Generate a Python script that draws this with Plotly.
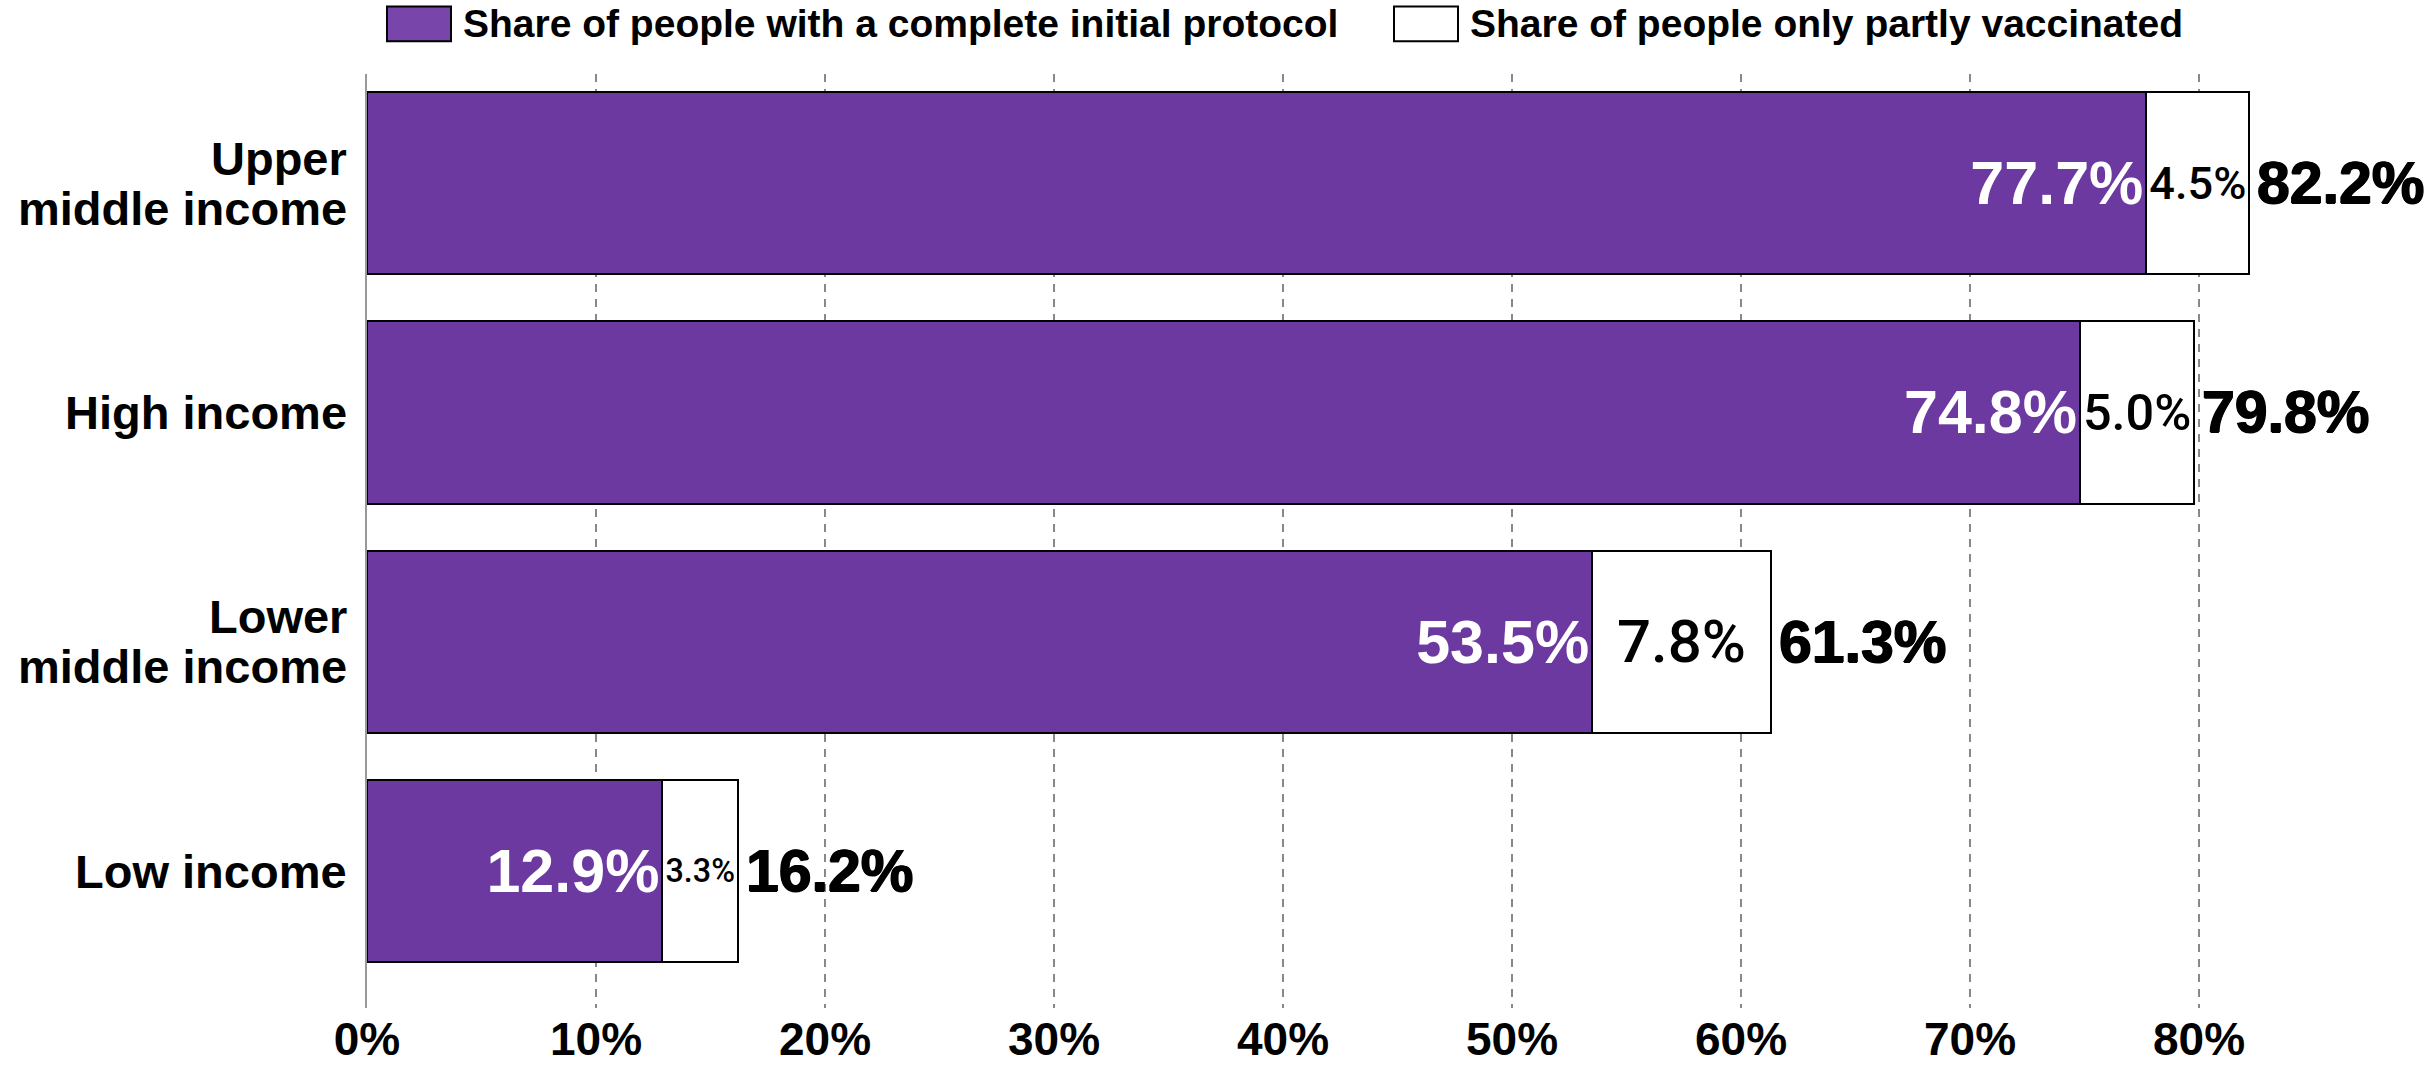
import plotly.graph_objects as go

# ---------------- data ----------------
categories = ["Upper<br>middle income", "High income", "Lower<br>middle income", "Low income"]
complete = [77.7, 74.8, 53.5, 12.9]
partly = [4.5, 5.0, 7.8, 3.3]
total = [82.2, 79.8, 61.3, 16.2]
tick_vals = [0, 10, 20, 30, 40, 50, 60, 70, 80]
tick_text = ["0%", "10%", "20%", "30%", "40%", "50%", "60%", "70%", "80%"]
legend_names = ["Share of people with a complete initial protocol",
                "Share of people only partly vaccinated"]

# ---------------- style ----------------
W, H = 2432, 1069
ML, MR, MT, MB = 367, 4, 74, 54
PURPLE = "#6B39A0"
PURPLE_LEG = "#7846AB"
ARIAL = "Liberation Sans, Arial, Helvetica, sans-serif"
NARROW = "Roboto, Liberation Sans, sans-serif"

ypos = list(range(len(categories)))

fig = go.Figure()
fig.add_trace(go.Bar(
    x=complete, y=ypos, orientation="h", width=0.796,
    name=legend_names[0],
    marker=dict(color=PURPLE, line=dict(color="black", width=2)),
    text=[f"{v:.1f}%" for v in complete],
    textposition="inside", insidetextanchor="end", textangle=0,
    textfont=dict(family=ARIAL, size=61, color="white", weight="bold"),
    showlegend=False, hoverinfo="skip",
))
fig.add_trace(go.Bar(
    x=partly, y=ypos, orientation="h", width=0.796,
    name=legend_names[1],
    marker=dict(color="white", line=dict(color="black", width=2)),
    text=[f"{v:.1f}%" for v in partly],
    textposition="inside", insidetextanchor="middle", textangle=0,
    textfont=dict(family=NARROW, size=60, color="black", weight=500),
    showlegend=False, hoverinfo="skip",
))

annotations = []
# totals
for i, t in enumerate(total):
    annotations.append(dict(
        x=t, y=ypos[i], xref="x", yref="y", text=f"{t:.1f}%",
        showarrow=False, xanchor="left", yanchor="middle", xshift=6,
        font=dict(family=ARIAL, size=59, color="black", weight="bold",
                  shadow="0.8px 0 0 #000, -0.8px 0 0 #000, 0 0.6px 0 #000"),
    ))
# category labels (one annotation per line for tight line spacing)
LINE = 50
for i, c in enumerate(categories):
    lines = c.split("<br>")
    n = len(lines)
    for k, ln in enumerate(lines):
        off = (k - (n - 1) / 2) * LINE
        annotations.append(dict(
            x=0, y=ypos[i], xref="paper", yref="y", text=ln,
            showarrow=False, xanchor="right", yanchor="middle",
            xshift=-18, yshift=-off,
            font=dict(family=ARIAL, size=47, color="black", weight="bold"),
        ))

# manual legend (swatches + text) placed in pixel terms
pw = W - ML - MR
ph = H - MT - MB
def px_x(p):
    return (p - ML) / pw
def px_y(p):
    return (H - MB - p) / ph

shapes = []
leg = [(387, PURPLE_LEG, 461), (1394, "white", 1468)]
for (sx, col, tx), name in zip(leg, legend_names):
    shapes.append(dict(type="rect", xref="paper", yref="paper",
                       x0=px_x(sx), x1=px_x(sx + 64), y0=px_y(41), y1=px_y(6),
                       fillcolor=col, line=dict(color="black", width=2), layer="above"))
    annotations.append(dict(
        x=px_x(tx), y=px_y(23), xref="paper", yref="paper", text=name,
        showarrow=False, xanchor="left", yanchor="middle",
        font=dict(family=ARIAL, size=39, color="black", weight="bold"),
    ))

fig.update_layout(
    width=W, height=H,
    margin=dict(l=ML, r=MR, t=MT, b=MB, pad=0),
    barmode="stack",
    plot_bgcolor="white", paper_bgcolor="white",
    showlegend=False,
    annotations=annotations,
    shapes=shapes,
    xaxis=dict(
        range=[0, 90], tickvals=tick_vals, ticktext=tick_text,
        showgrid=True, gridcolor="#888888", gridwidth=2, griddash="8px,7px",
        zeroline=False, showline=False, ticks="",
        tickfont=dict(family=ARIAL, size=46, color="black", weight="bold"),
    ),
    yaxis=dict(
        range=[3.597, -0.476], showticklabels=False, showgrid=False,
        zeroline=False, showline=True, linecolor="#999999", linewidth=2,
        ticks="",
    ),
)

fig.write_html("out.html")
